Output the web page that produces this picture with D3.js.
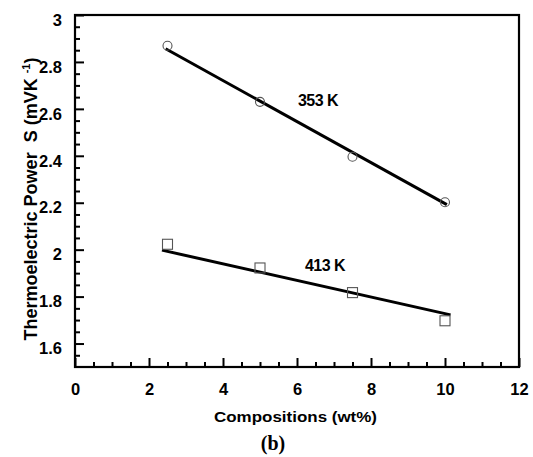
<!DOCTYPE html>
<html><head><meta charset="utf-8">
<script src="https://cdn.jsdelivr.net/npm/d3@7"></script>
<style>body{margin:0;background:#fff}svg{display:block}</style>
</head><body>
<svg id="c" width="533" height="457"></svg>
<script>
const compositions = [2.5, 5, 7.5, 10];
const s353 = [2.869, 2.630, 2.396, 2.202];
const s413 = [2.023, 1.922, 1.817, 1.697];
const fitX353 = [2.45, 10.05], fitY353 = [2.856, 2.192];
const fitX413 = [2.35, 10.15], fitY413 = [1.998, 1.722];
const xTicks = [0, 2, 4, 6, 8, 10, 12];
const yTicks = [1.6, 1.8, 2, 2.2, 2.4, 2.6, 2.8, 3];
const yTickLabels = ["1.6", "1.8", "2", "2.2", "2.4", "2.6", "2.8", "3"];

const svg = d3.select("#c");
const L = 75, R = 519, T = 15, B = 367;
const x = d3.scaleLinear().domain([0, 12]).range([L, R]);
const y = d3.scaleLinear().domain([1.5, 3]).range([B, T]);
const font = "'Liberation Sans', Arial, sans-serif";

// frame
svg.append("rect").attr("x", L).attr("y", T).attr("width", R - L).attr("height", B - T)
  .attr("fill", "none").attr("stroke", "#000").attr("stroke-width", 2.2);

// x axis ticks (inward)
const xMinor = d3.range(0.5, 12, 0.5).filter(v => Math.abs(v % 2) > 1e-9);
const xAx = d3.axisBottom(x).tickValues(xTicks).tickSizeInner(-9).tickSizeOuter(0).tickFormat(d3.format("d"));
const gx = svg.append("g").attr("transform", `translate(0,${B})`).call(xAx);
gx.select(".domain").remove();
gx.selectAll(".tick line").attr("stroke-width", 2);
gx.selectAll(".tick text").attr("y", 16).attr("font-family", font).attr("font-weight", "bold").attr("font-size", 16.5).attr("fill", "#000");
svg.append("g").attr("transform", `translate(0,${B})`)
  .call(d3.axisBottom(x).tickValues(xMinor).tickSizeInner(-5).tickSizeOuter(0).tickFormat(""))
  .call(g => g.select(".domain").remove())
  .selectAll(".tick line").attr("stroke-width", 2);

// y axis ticks
const yMinor = d3.range(1.55, 3.0, 0.05).filter(v => Math.abs(Math.round(v * 5) - v * 5) > 1e-6);
const yAx = d3.axisLeft(y).tickValues(yTicks).tickSizeInner(-9).tickSizeOuter(0).tickFormat((d, i) => yTickLabels[i]);
const gy = svg.append("g").attr("transform", `translate(${L},0)`).call(yAx);
gy.select(".domain").remove();
gy.selectAll(".tick line").attr("stroke-width", 2);
gy.selectAll(".tick text").attr("x", -13).attr("dy", "0.62em").attr("font-family", font).attr("font-weight", "bold").attr("font-size", 16.5).attr("fill", "#000");
svg.append("g").attr("transform", `translate(${L},0)`)
  .call(d3.axisLeft(y).tickValues(yMinor).tickSizeInner(-5).tickSizeOuter(0).tickFormat(""))
  .call(g => g.select(".domain").remove())
  .selectAll(".tick line").attr("stroke-width", 2);

// fit lines
const line = d3.line().x(d => x(d[0])).y(d => y(d[1]));
svg.append("path").datum(fitX353.map((v, i) => [v, fitY353[i]])).attr("d", line)
  .attr("stroke", "#000").attr("stroke-width", 3).attr("fill", "none");
svg.append("path").datum(fitX413.map((v, i) => [v, fitY413[i]])).attr("d", line)
  .attr("stroke", "#000").attr("stroke-width", 3).attr("fill", "none");

// markers
svg.append("g").selectAll("circle").data(compositions).join("circle")
  .attr("cx", d => x(d)).attr("cy", (d, i) => y(s353[i])).attr("r", 4.5)
  .attr("fill", "none").attr("stroke", "#555").attr("stroke-width", 1.1);
svg.append("g").selectAll("rect").data(compositions).join("rect")
  .attr("x", d => x(d) - 5).attr("y", (d, i) => y(s413[i]) - 5).attr("width", 10).attr("height", 10)
  .attr("fill", "none").attr("stroke", "#555").attr("stroke-width", 1.1);

// series labels
svg.append("text").attr("x", 318).attr("y", 106).attr("text-anchor", "middle")
  .attr("font-family", font).attr("font-weight", "bold").attr("font-size", 16).attr("letter-spacing", -0.5)
  .text("353 K");
svg.append("text").attr("x", 325).attr("y", 271).attr("text-anchor", "middle")
  .attr("font-family", font).attr("font-weight", "bold").attr("font-size", 16).attr("letter-spacing", -0.5)
  .text("413 K");

// axis titles
svg.append("text").attr("x", 295.5).attr("y", 422).attr("text-anchor", "middle")
  .attr("font-family", font).attr("font-weight", "bold").attr("font-size", 15.5)
  .attr("textLength", 163).attr("lengthAdjust", "spacingAndGlyphs")
  .text("Compositions (wt%)");
const yt = svg.append("text").attr("transform", "translate(37,199) rotate(-90)").attr("text-anchor", "middle")
  .attr("font-family", font).attr("font-weight", "bold").attr("font-size", 18)
  .style("white-space", "pre");
yt.append("tspan").text("Thermoelectric Power  S (mVK ");
yt.append("tspan").attr("font-size", 11).attr("dy", -7).text("-1");
yt.append("tspan").attr("dy", 7).text(")");

svg.append("text").attr("x", 273).attr("y", 450).attr("text-anchor", "middle")
  .attr("font-family", "'Liberation Serif', 'Times New Roman', serif").attr("font-weight", "bold").attr("font-size", 20)
  .text("(b)");
</script>
</body></html>
